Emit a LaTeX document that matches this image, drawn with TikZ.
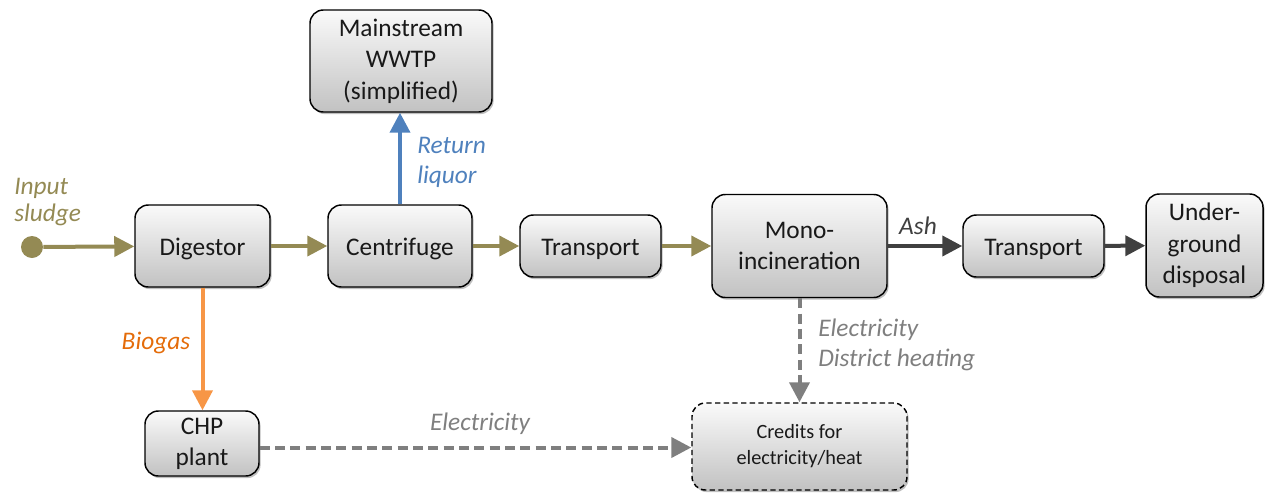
\documentclass[tikz,border=0pt]{standalone}
\usepackage{fontspec}
\setmainfont{Carlito}
\usetikzlibrary{arrows.meta,shadows}
\definecolor{olivec}{HTML}{948A54}
\definecolor{bluec}{HTML}{4F81BD}
\definecolor{orangec}{HTML}{F79646}
\definecolor{orangetxt}{HTML}{E46C0A}
\definecolor{darkc}{HTML}{404040}
\definecolor{grayc}{HTML}{7F7F7F}
\tikzset{
  procbox/.style={draw=black, line width=1.1pt, rounded corners=10pt, top color=gray!4, bottom color=gray!48,
    align=center, inner sep=0pt, font=\fontsize{19}{23.5}\selectfont, text=black!90,
    execute at begin node={\rule{0pt}{17pt}},
    drop shadow={shadow xshift=1.2pt, shadow yshift=-1.6pt, opacity=0.25, fill=black}},
  flow/.style={line width=3pt, -{Triangle[length=15pt,width=15pt]}},
  dashflow/.style={flow, dash pattern=on 7.5pt off 4pt},
  lbl/.style={font=\fontsize{19}{22.5}\selectfont\itshape, inner sep=0pt, align=left},
}
\begin{document}
\begin{tikzpicture}[x=0.75pt,y=-0.75pt]
\useasboundingbox (0,0) rectangle (1277,493);
\node[procbox, minimum width=136.5pt, minimum height=76.5pt] (main) at (401,61) {Mainstream\\WWTP\\(simplified)};
\node[procbox, minimum width=101.25pt, minimum height=61.5pt] (dig) at (202.5,246) {Digestor};
\node[procbox, minimum width=108pt, minimum height=61.5pt] (cen) at (400,246) {Centrifuge};
\node[procbox, minimum width=105.75pt, minimum height=46.5pt] (tr1) at (590.5,246) {Transport};
\node[procbox, minimum width=131.25pt, minimum height=77.25pt] (mono) at (799.5,246) {Mono-\\incineration};
\node[procbox, minimum width=105.75pt, minimum height=46.5pt] (tr2) at (1033.5,246) {Transport};
\node[procbox, minimum width=87.75pt, minimum height=77.25pt] (und) at (1204.5,245.5) {Under-\\ground\\disposal};
\node[procbox, minimum width=85.5pt, minimum height=48.75pt] (chp) at (202,443.5) {CHP\\plant};
\node[procbox, dashed, dash pattern=on 4pt off 2.5pt, minimum width=161.25pt, minimum height=65.25pt,
  font=\fontsize{15.2}{19.5}\selectfont, execute at begin node={\rule{0pt}{14pt}}] (cred) at (799.5,446.5) {Credits for\\electricity/heat};
\node[circle, fill=olivec, minimum size=16.5pt, inner sep=0pt] (in) at (32,247) {};

\draw[flow, olivec] (in) -- (dig);
\draw[flow, olivec] (dig) -- (cen);
\draw[flow, olivec] (cen) -- (tr1);
\draw[flow, olivec] (tr1) -- (mono);
\draw[flow, darkc] (mono) -- (tr2);
\draw[flow, darkc] (tr2) -- (und);
\draw[flow, bluec] (cen.north) -- (cen.north |- main.south);
\draw[flow, orangec] (dig.south) -- (dig.south |- chp.north);
\draw[dashflow, grayc] (mono.south) -- (mono.south |- cred.north);
\coordinate (chpout) at ([yshift=-3pt]chp.east);
\draw[dashflow, grayc] (chpout) -- (chpout -| cred.west);

\node[lbl, olivec, anchor=west, font=\fontsize{19}{20.3}\selectfont\itshape] (linput) at (14,202) {Input\\sludge};
\node[lbl, bluec, anchor=west] (lret) at (417,162) {Return\\liquor};
\node[lbl, orangetxt] (lbio) at (156,343) {Biogas};
\node[lbl, darkc] (lash) at (918,226) {Ash};
\node[lbl, grayc, anchor=west] (lelec) at (818,345) {Electricity\\District heating};
\node[lbl, grayc] (lelec2) at (480,424) {Electricity};
\end{tikzpicture}
\end{document}
